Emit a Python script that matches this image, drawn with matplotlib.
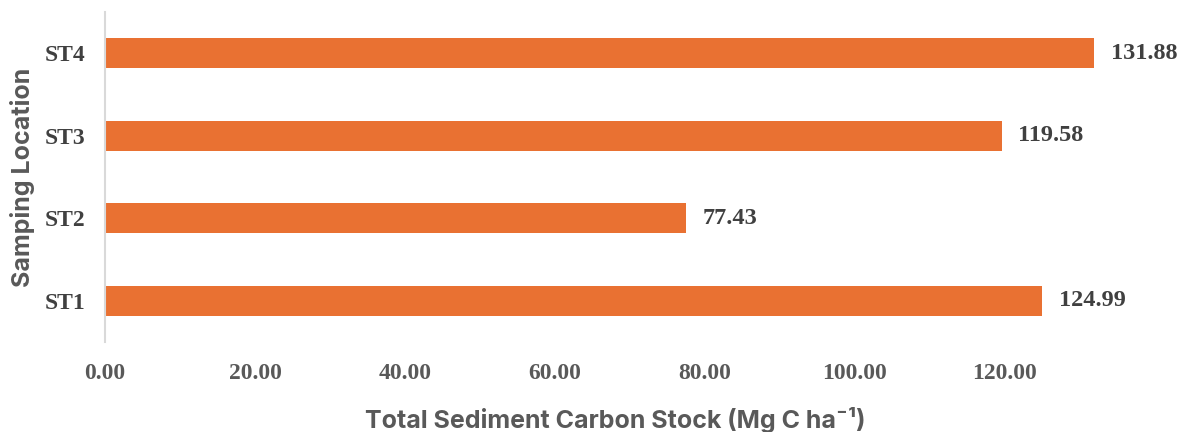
import matplotlib.pyplot as plt

# data
locations = ["ST1", "ST2", "ST3", "ST4"]
carbon_stock = [124.99, 77.43, 119.58, 131.88]
x_ticks = [0, 20, 40, 60, 80, 100, 120]

BAR_COLOR = "#E97132"
TICK_GRAY = "#595959"
LABEL_DARK = "#404040"
SERIF = ["Liberation Serif", "DejaVu Serif"]
SANS = ["Inter", "DejaVu Sans"]

fig = plt.figure(figsize=(11.79, 4.32), dpi=100)
ax = fig.add_axes([105 / 1179, 1 - 342 / 432, (1125 - 105) / 1179, 330 / 432])

ypos = range(len(locations))
ax.barh(ypos, carbon_stock, height=0.36, color=BAR_COLOR)

for y, v in zip(ypos, carbon_stock):
    ax.text(v + 2.2, y, f"{v:.2f}", va="center", ha="left", fontsize=17.5,
            fontweight="bold", family=SERIF, color=LABEL_DARK)

ax.set_xlim(0, 136)
ax.set_ylim(-0.5, len(locations) - 0.5)
ax.set_xticks(x_ticks)
ax.set_xticklabels([f"{t:.2f}" for t in x_ticks], family=SERIF,
                   fontweight="bold", fontsize=17, color=TICK_GRAY)
ax.set_yticks(list(ypos))
ax.set_yticklabels(locations, family=SERIF, fontweight="bold",
                   fontsize=17, color=LABEL_DARK)
ax.tick_params(axis="both", length=0)
ax.tick_params(axis="x", pad=15)
ax.tick_params(axis="y", pad=14)

for side in ["top", "right", "bottom"]:
    ax.spines[side].set_visible(False)
ax.spines["left"].set_color("#D9D9D9")
ax.spines["left"].set_linewidth(1.5)

ax.set_xlabel("Total Sediment Carbon Stock (Mg C ha\u207b\u00b9)", family=SANS,
              fontweight="bold", fontsize=18, color=TICK_GRAY, labelpad=17)
ax.set_ylabel("Samping Location", family=SANS, fontweight="bold",
              fontsize=18, color=TICK_GRAY, labelpad=7)

fig.savefig("out.png", dpi=100)
